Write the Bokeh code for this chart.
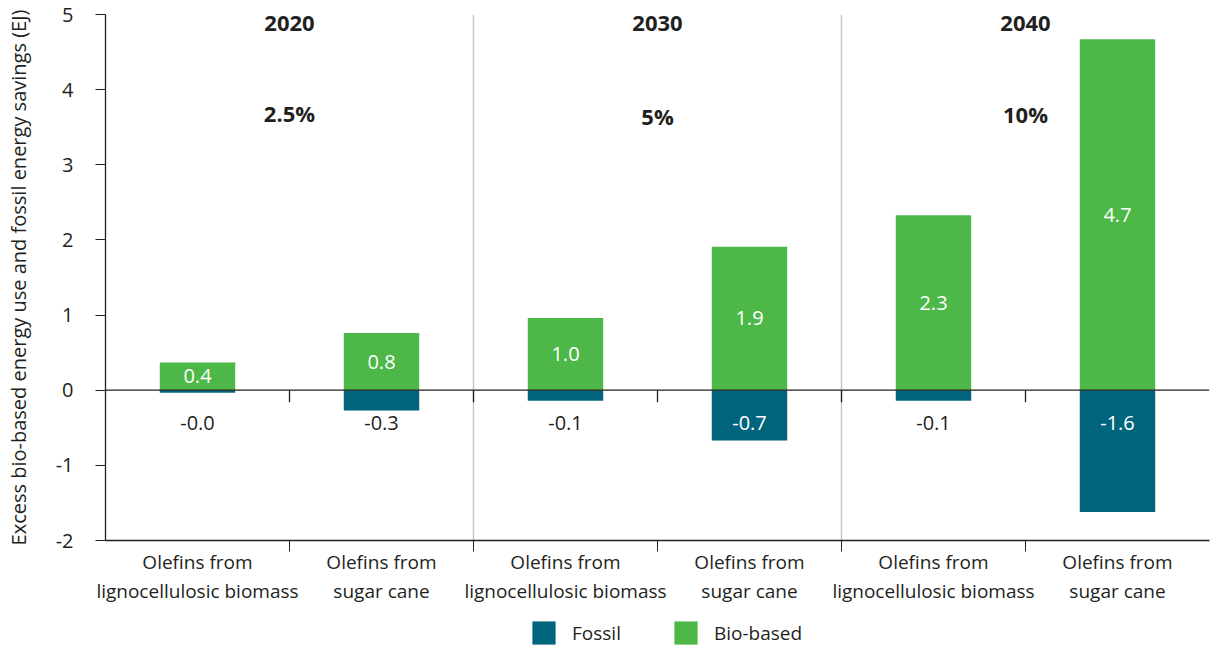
from bokeh.plotting import figure
from bokeh.layouts import column
from bokeh.models import FixedTicker, Span, Legend, LegendItem
from bokeh.embed import file_html
from bokeh.resources import INLINE
from bokeh.core.properties import value

# ---- data ----
categories = [
    "Olefins from\nlignocellulosic biomass",
    "Olefins from\nsugar cane",
    "Olefins from\nlignocellulosic biomass",
    "Olefins from\nsugar cane",
    "Olefins from\nlignocellulosic biomass",
    "Olefins from\nsugar cane",
]
years = ["2020", "2030", "2040"]
shares = ["2.5%", "5%", "10%"]
bio_based = [0.37, 0.76, 0.96, 1.91, 2.33, 4.67]
fossil = [-0.035, -0.27, -0.14, -0.67, -0.14, -1.62]
y_ticks = [-2, -1, 0, 1, 2, 3, 4, 5]
y_title = "Excess bio-based energy use and fossil energy savings (EJ)"
series_names = ["Fossil", "Bio-based"]

# ---- style / layout ----
FONT = "Open Sans"
TXT = "#231f20"
GREEN = "#4db848"
TEAL = "#00657c"
GRAY = "#c8c8c8"

n = len(categories)
centers = [i + 0.5 for i in range(n)]
bounds = list(range(1, n))
group_centers = [1, 3, 5]
year_y = [4.88, 4.88, 4.88]
share_y = [3.69, 3.65, 3.68]
fossil_label_y = [-0.44] * n

p = figure(frame_width=1104, frame_height=526, x_range=(0, n), y_range=(-2, 5),
           output_backend="svg", toolbar_location=None,
           min_border_left=105, min_border_right=1, min_border_top=14,
           min_border_bottom=0)
p.xgrid.visible = False
p.ygrid.visible = False
p.outline_line_color = None
p.background_fill_color = "white"
p.border_fill_color = "white"

# separators between years
for xs in [2, 4]:
    p.add_layout(Span(location=xs, dimension="height", line_color=GRAY, line_width=1.5, level="underlay"))

p.vbar(x=centers, top=0, bottom=fossil, width=0.41, fill_color=TEAL, line_color=None)
p.vbar(x=centers, top=bio_based, bottom=0, width=0.41, fill_color=GREEN, line_color=None)

# zero line and its ticks
p.add_layout(Span(location=0, dimension="width", line_color=TXT, line_width=1.3))
p.segment(x0=bounds, y0=[0] * len(bounds), x1=bounds, y1=[-0.16] * len(bounds), line_color=TXT, line_width=1.3)

# value labels
p.text(x=centers, y=[v / 2 for v in bio_based], text=[f"{v:.1f}" for v in bio_based],
       text_color="white", text_align="center", text_baseline="middle",
       text_font=value(FONT), text_font_size="20px")
p.text(x=centers, y=fossil_label_y, text=[f"{v:.1f}" for v in fossil],
       text_color=["white" if v < -0.5 else TXT for v in fossil],
       text_align="center", text_baseline="middle",
       text_font=value(FONT), text_font_size="20px")

# year + share annotations
p.text(x=group_centers, y=year_y, text=years, text_color=TXT, text_align="center",
       text_baseline="middle", text_font=value(FONT), text_font_size="22px", text_font_style="bold")
p.text(x=group_centers, y=share_y, text=shares, text_color=TXT, text_align="center",
       text_baseline="middle", text_font=value(FONT), text_font_size="22px", text_font_style="bold")

# axes
yax = p.yaxis[0]
yax.ticker = FixedTicker(ticks=y_ticks)
yax.major_label_overrides = {t: str(t) for t in y_ticks}
yax.major_tick_out = 10
yax.major_tick_in = 0
yax.minor_tick_out = 0
yax.axis_line_color = TXT
yax.major_tick_line_color = TXT
yax.axis_line_width = 1.3
yax.major_label_text_font = FONT
yax.major_label_text_font_size = "20px"
yax.major_label_text_color = TXT
yax.major_label_standoff = 22
yax.axis_label = y_title
yax.axis_label_text_font = FONT
yax.axis_label_text_font_size = "20px"
yax.axis_label_text_font_style = "normal"
yax.axis_label_text_color = TXT
yax.axis_label_standoff = 21

xax = p.xaxis[0]
xax.ticker = FixedTicker(ticks=centers, minor_ticks=bounds)
xax.major_tick_out = 0
xax.major_tick_in = 0
xax.minor_tick_out = 11
xax.minor_tick_in = 0
xax.minor_tick_line_color = TXT
xax.axis_line_color = TXT
xax.axis_line_width = 1.3
xax.major_label_overrides = {c: lab for c, lab in zip(centers, categories)}
xax.major_label_text_font = FONT
xax.major_label_text_font_size = "19px"
xax.major_label_text_color = TXT
xax.major_label_text_line_height = 1.12
xax.major_label_standoff = -3

# ---- legend strip (separate small figure below the chart) ----
# the same series are drawn here outside the visible range, only to feed the legend
lf = figure(frame_width=1104, frame_height=41, x_range=(0, n), y_range=(100, 101),
            output_backend="svg", toolbar_location=None,
            x_axis_location=None, y_axis_location=None,
            min_border_left=105, min_border_right=1, min_border_top=0, min_border_bottom=0)
lf.xgrid.visible = False
lf.ygrid.visible = False
lf.outline_line_color = None
lf.background_fill_color = "white"
lf.border_fill_color = "white"
r_fossil = lf.vbar(x=centers, top=0, bottom=fossil, width=0.41, fill_color=TEAL, line_color=None)
r_bio = lf.vbar(x=centers, top=bio_based, bottom=0, width=0.41, fill_color=GREEN, line_color=None)
legend = Legend(items=[LegendItem(label=series_names[0], renderers=[r_fossil]),
                       LegendItem(label=series_names[1], renderers=[r_bio])],
                orientation="horizontal", location=(424, 0),
                glyph_width=29, glyph_height=29, label_standoff=14, spacing=50,
                label_text_font=FONT, label_text_font_size="19px", label_text_color=TXT,
                label_height=29, label_text_baseline="middle",
                border_line_color=None, background_fill_alpha=0, padding=0, margin=0)
lf.add_layout(legend, "center")

layout = column(p, lf, spacing=0)
open("out.html", "w").write(file_html(layout, INLINE))
